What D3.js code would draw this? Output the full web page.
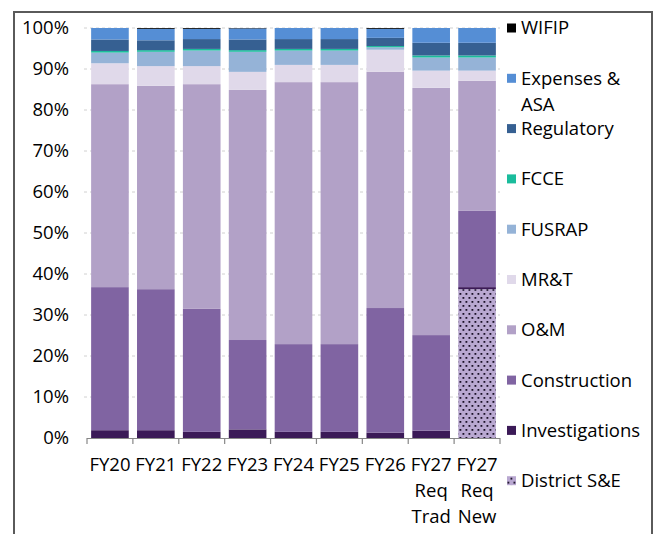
<!DOCTYPE html>
<html>
<head>
<meta charset="utf-8">
<style>
  body { margin: 0; background: #fff; }
  text { font-family: "Open Sans", sans-serif; font-size: 18.5px; fill: #000; }
</style>
<title>Budget shares</title>
</head>
<body>
<script src="https://cdn.jsdelivr.net/npm/d3@7/dist/d3.min.js"></script>
<script>

// categories, one per bar (x label lines)
var categories = ["FY20","FY21","FY22","FY23","FY24","FY25","FY26","FY27T","FY27N"];
var catLabels = [["FY20"],["FY21"],["FY22"],["FY23"],["FY24"],["FY25"],["FY26"],
                 ["FY27","Req","Trad"],["FY27","Req","New"]];

// share of each account in %
var districtSE    = [0, 0, 0, 0, 0, 0, 0, 0, 36.3];
var investigations= [1.9, 1.9, 1.5, 2.1, 1.5, 1.5, 1.3, 1.8, 0.5];
var construction  = [34.9, 34.4, 30.0, 21.8, 21.4, 21.4, 30.4, 23.3, 18.6];
var om            = [49.5, 49.6, 54.8, 61.0, 63.9, 63.9, 57.6, 60.3, 31.7];
var mrt           = [5.1, 4.8, 4.4, 4.4, 4.2, 4.2, 5.4, 4.2, 2.5];
var fusrap        = [2.6, 3.5, 3.8, 4.9, 3.5, 3.5, 0.6, 3.2, 3.2];
var fcce          = [0.4, 0.4, 0.4, 0.4, 0.4, 0.4, 0.3, 0.5, 0.5];
var regulatory    = [2.8, 2.4, 2.4, 2.6, 2.4, 2.4, 2.0, 3.1, 3.1];
var expenses      = [2.8, 2.8, 2.5, 2.7, 2.7, 2.7, 2.2, 3.6, 3.6];
var wifip         = [0, 0.2, 0.2, 0.1, 0, 0, 0.2, 0, 0];

var yTicks = [0,10,20,30,40,50,60,70,80,90,100];

// stack order bottom -> top
var keys = ["District S&E","Investigations","Construction","O&M","MR&T","FUSRAP","FCCE","Regulatory","Expenses & ASA","WIFIP"];
var seriesVals = [districtSE, investigations, construction, om, mrt, fusrap, fcce, regulatory, expenses, wifip];
var colors = {
  "District S&E":"url(#dots)",
  "Investigations":"#3b1a57",
  "Construction":"#8064a2",
  "O&M":"#b2a1c7",
  "MR&T":"#e0d9ea",
  "FUSRAP":"#95b3d7",
  "FCCE":"#1abc9c",
  "Regulatory":"#366092",
  "Expenses & ASA":"#558ed5",
  "WIFIP":"#000000"
};

var table = categories.map(function(c, i){
  var row = {cat: c};
  keys.forEach(function(k, j){ row[k] = seriesVals[j][i]; });
  return row;
});

var W = 655, H = 534;
var svg = d3.select("body").append("svg").attr("width", W).attr("height", H);

var defs = svg.append("defs");
var pat = defs.append("pattern").attr("id","dots").attr("patternUnits","userSpaceOnUse")
  .attr("width", 6).attr("height", 8);
pat.append("rect").attr("width",6).attr("height",8).attr("fill","#b9a8d1");
pat.append("rect").attr("x",0.5).attr("y",1).attr("width",1.8).attr("height",1.8).attr("fill","#1a1026");
pat.append("rect").attr("x",3.5).attr("y",5).attr("width",1.8).attr("height",1.8).attr("fill","#1a1026");

// outer frame
svg.append("rect").attr("x",14).attr("y",12).attr("width",638).attr("height",540)
  .attr("fill","none").attr("stroke","#5a5a5a").attr("stroke-width",2);

var x = d3.scaleBand().domain(categories).range([87, 500]).paddingInner(0.18).paddingOuter(0.09);
var y = d3.scaleLinear().domain([0, 100]).range([438, 28]);

// gridlines
svg.append("g").selectAll("line").data(yTicks.slice(1)).enter().append("line")
  .attr("x1", 84).attr("x2", 500)
  .attr("y1", d => y(d)).attr("y2", d => y(d))
  .attr("stroke","#d0d0d0").attr("stroke-dasharray","3,3");

// y labels
svg.append("g").selectAll("text").data(yTicks).enter().append("text")
  .attr("x", 69).attr("y", d => y(d)).attr("dy","0.35em")
  .attr("text-anchor","end").text(d => d + "%");

var stacked = d3.stack().keys(keys)(table);

svg.append("g").selectAll("g").data(stacked).enter().append("g")
  .attr("fill", d => colors[d.key])
  .selectAll("rect").data(d => d).enter().append("rect")
    .attr("x", d => x(d.data.cat))
    .attr("y", d => y(d[1]))
    .attr("width", x.bandwidth())
    .attr("height", d => y(d[0]) - y(d[1]));

// x axis
var xa = svg.append("g");
xa.append("line").attr("x1",87).attr("x2",500).attr("y1",438.5).attr("y2",438.5)
  .attr("stroke","#878787").attr("stroke-width",1.2);
var bounds = categories.map(c => x(c) - x.step()*0.09).concat([500]);
xa.selectAll("line.tk").data(bounds).enter().append("line").attr("class","tk")
  .attr("x1", d => d).attr("x2", d => d).attr("y1",438).attr("y2",444)
  .attr("stroke","#878787").attr("stroke-width",1.2);

var xl = svg.append("g").selectAll("text").data(categories).enter().append("text")
  .attr("text-anchor","middle")
  .attr("x", d => x(d) + x.bandwidth()/2);
xl.each(function(d, i){
  var t = d3.select(this);
  catLabels[i].forEach(function(line, j){
    t.append("tspan").attr("x", x(d) + x.bandwidth()/2).attr("y", 471 + j*26).text(line);
  });
});

// legend, top -> bottom is reverse stack order
var legendKeys = keys.slice().reverse();
var leg = svg.append("g").selectAll("g").data(legendKeys).enter().append("g")
  .attr("transform", (d, i) => "translate(507," + (28 + i*50.3) + ")");
leg.append("rect").attr("x",0).attr("y",-4.5).attr("width",9).attr("height",9)
  .attr("fill", d => colors[d]);
leg.append("text")
  .each(function(d){
    var t = d3.select(this);
    var lines = d === "Expenses & ASA" ? ["Expenses &", "ASA"] : [d];
    lines.forEach(function(line, j){
      t.append("tspan").attr("x",14).attr("y", j*26).attr("dy","0.35em").text(line);
    });
  });

</script>
</body>
</html>
